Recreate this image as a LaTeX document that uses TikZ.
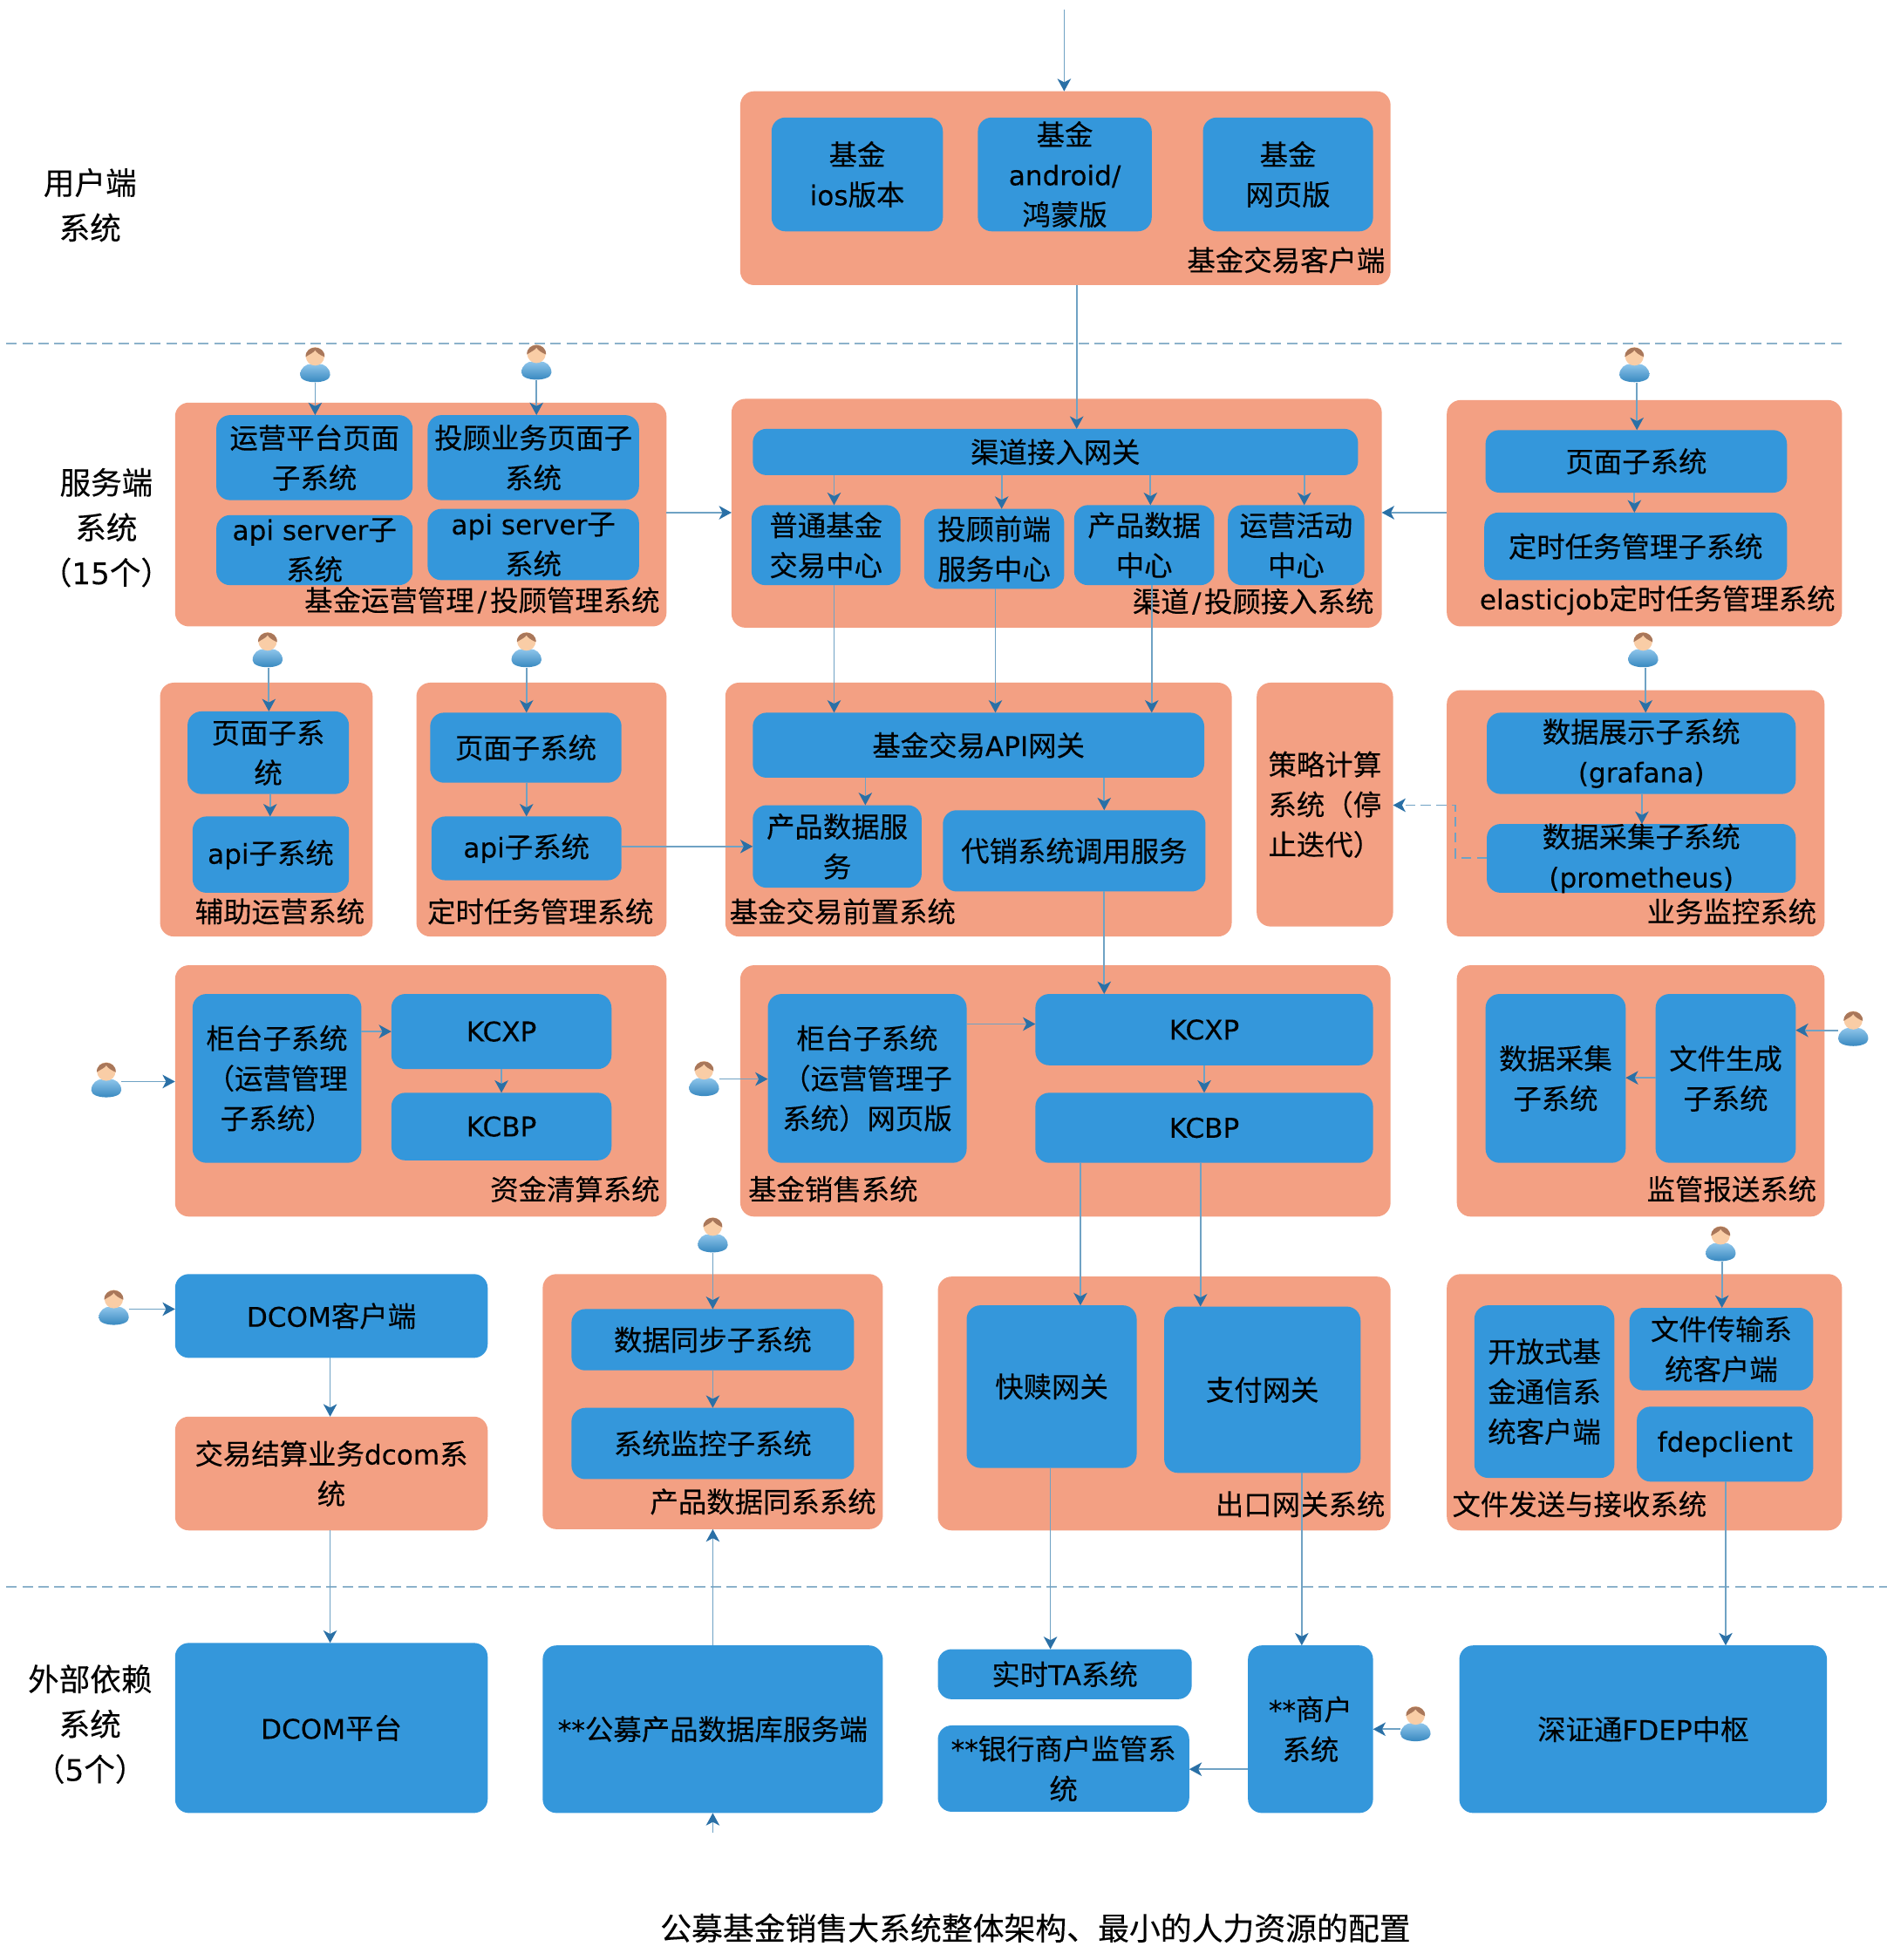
\documentclass[tikz,border=0pt]{standalone}
\usepackage{fontspec}
\setmainfont{Noto Sans CJK SC}[FakeBold=0.18]
\newfontfamily\lat{DejaVu Sans}[Scale=0.96,FakeBold=0.12]
\usetikzlibrary{arrows.meta}
\definecolor{salm}{HTML}{F3A083}
\definecolor{blu}{HTML}{3497DB}
\definecolor{linec}{HTML}{6FA2C4}
\definecolor{tipc}{HTML}{2A70A6}
\definecolor{dashc}{HTML}{8CB2CB}
\definecolor{skin}{HTML}{F9CDA6}
\definecolor{hair}{HTML}{A9775A}
\tikzset{
  outerbox/.style={fill=salm,rounded corners=5.5pt,inner sep=0pt,outer sep=0pt},
  innerbox/.style={fill=blu,rounded corners=5.5pt,inner sep=0pt,outer sep=0pt},
  txt/.style={inner sep=0pt,align=center,text=black,font=\fontsize{11.3pt}{16pt}\selectfont},
  lbl/.style={inner sep=0pt,align=center,text=black,font=\fontsize{11.3pt}{16pt}\selectfont},
  side/.style={inner sep=0pt,align=center,text=black,font=\fontsize{12.4pt}{18pt}\selectfont},
  arr/.style={draw=linec,line width=0.6pt,-{Stealth[length=5pt,width=5.4pt,inset=1.4pt,color=tipc]}},
  dasharr/.style={arr,dash pattern=on 4pt off 2.2pt},
  sep/.style={draw=dashc,line width=0.7pt,dash pattern=on 4.2pt off 2.2pt},
}
% \bx{style}{name}{x1}{y1}{x2}{y2}{text}
\newcommand{\bx}[7]{%
  \pgfmathsetmacro{\bw}{(#5-#3)*0.5}%
  \pgfmathsetmacro{\bh}{(#6-#4)*0.5}%
  \node[#1,minimum width=\bw pt,minimum height=\bh pt] (#2) at ({(#3+#5)/2},{(#4+#6)/2}) {};
  \node[txt] (#2t) at (#2.center) {#7};
}
\newcommand{\person}[3]{%
  \node[inner sep=0pt,outer sep=0pt,minimum width=12pt,minimum height=14pt] (#1) at (#2,#3) {};
  \begin{scope}[shift={(#2,#3)}]
    \shade[top color=blu!55!white,bottom color=blu!85!black]
      (-12,8) .. controls (-12,2) and (-7,-1) .. (-3,-1) -- (3,-1)
      .. controls (7,-1) and (12,2) .. (12,8)
      .. controls (12,15.5) and (-12,15.5) .. (-12,8) -- cycle;
    \fill[skin] (0,-7) circle[radius=7.4];
    \fill[hair] (-7.6,-6.5) .. controls (-8,-16.5) and (8,-16.5) .. (7.6,-6.5)
      .. controls (4,-8) and (1,-10) .. (0,-12) .. controls (-1,-10) and (-4,-9) .. (-7.6,-6.5) -- cycle;
  \end{scope}
}
\begin{document}
\begin{tikzpicture}[x=0.5pt,y=-0.5pt]
\useasboundingbox (0,0) rectangle (1509,1567.6);
% separators
\coordinate (s1a) at (5,275); \coordinate (s1b) at (1474,275);
\coordinate (s2a) at (5,1269); \coordinate (s2b) at (1509,1269);
\draw[sep] (s1a) -- (s1b);
\draw[sep] (s2a) -- (s2b);
% side labels
\node[side] (sideA) at (72,164) {用户端\\系统};
\node[side] (sideB) at (85,422) {服务端\\系统\\（{\lat 15}个）};
\node[side] (sideC) at (72,1379) {外部依赖\\系统\\（{\lat 5}个）};
% client
\bx{outerbox}{client}{592}{73}{1112}{228}{}
\bx{innerbox}{c1}{617}{94}{754}{185}{基金\\{\lat ios}版本}
\bx{innerbox}{c2}{782}{94}{921}{185}{基金\\{\lat android/}\\鸿蒙版}
\bx{innerbox}{c3}{962}{94}{1098}{185}{基金\\网页版}
\node[lbl,anchor=east] (clientl) at (1108,208) {基金交易客户端};
% row 2
\bx{outerbox}{opsys}{140}{322}{533}{501}{}
\bx{innerbox}{op1}{173}{332}{330}{400}{运营平台页面\\子系统}
\bx{innerbox}{op2}{342}{332}{511}{400}{投顾业务页面子\\系统}
\bx{innerbox}{op3}{173}{412}{330}{468}{{\lat api server}子\\系统}
\bx{innerbox}{op4}{342}{407}{511}{464}{{\lat api server}子\\系统}
\node[lbl,anchor=east] (opsysl) at (528,480) {基金运营管理\kern1.4pt{\lat /}\kern1.4pt投顾管理系统};
\bx{outerbox}{chan}{585}{319}{1105}{502}{}
\bx{innerbox}{gw}{602}{343}{1086}{380}{渠道接入网关}
\bx{innerbox}{ch1}{601}{404}{720}{468}{普通基金\\交易中心}
\bx{innerbox}{ch2}{739}{407}{851}{471}{投顾前端\\服务中心}
\bx{innerbox}{ch3}{859}{404}{971}{468}{产品数据\\中心}
\bx{innerbox}{ch4}{982}{404}{1091}{468}{运营活动\\中心}
\node[lbl,anchor=east] (chanl) at (1099,481) {渠道\kern1.2pt{\lat /}\kern1.2pt投顾接入系统};
\bx{outerbox}{ejob}{1157}{320}{1473}{501}{}
\bx{innerbox}{ej1}{1188}{344}{1429}{394}{页面子系统}
\bx{innerbox}{ej2}{1187}{410}{1429}{464}{定时任务管理子系统}
\node[lbl,anchor=east] (ejobl) at (1468,480) {{\lat elasticjob}定时任务管理系统};
% row 3
\bx{outerbox}{aux}{128}{546}{298}{749}{}
\bx{innerbox}{aux1}{150}{569}{279}{635}{页面子系\\统}
\bx{innerbox}{aux2}{154}{653}{279}{714}{{\lat api}子系统}
\node[lbl,anchor=east] (auxl) at (292,729) {辅助运营系统};
\bx{outerbox}{tim}{333}{546}{533}{749}{}
\bx{innerbox}{tim1}{344}{570}{497}{626}{页面子系统}
\bx{innerbox}{tim2}{345}{653}{497}{704}{{\lat api}子系统}
\node[lbl,anchor=east] (timl) at (523,729) {定时任务管理系统};
\bx{outerbox}{pre}{580}{546}{985}{749}{}
\bx{innerbox}{pre1}{602}{570}{963}{622}{基金交易{\lat API}网关}
\bx{innerbox}{pre2}{602}{644}{737}{710}{产品数据服\\务}
\bx{innerbox}{pre3}{754}{648}{964}{713}{代销系统调用服务}
\node[lbl,anchor=west] (prel) at (583,729) {基金交易前置系统};
\bx{outerbox}{strat}{1005}{546}{1114}{741}{策略计算\\系统（停\\止迭代）}
\bx{outerbox}{mon}{1157}{552}{1459}{749}{}
\bx{innerbox}{mon1}{1189}{570}{1436}{635}{数据展示子系统\\{\lat (grafana)}}
\bx{innerbox}{mon2}{1189}{659}{1436}{714}{数据采集子系统\\{\lat (prometheus)}}
\node[lbl,anchor=east] (monl) at (1453,729) {业务监控系统};
% row 4
\bx{outerbox}{clr}{140}{772}{533}{973}{}
\bx{innerbox}{clr1}{154}{795}{289}{930}{柜台子系统\\（运营管理\\子系统）}
\bx{innerbox}{clr2}{313}{795}{489}{855}{{\lat KCXP}}
\bx{innerbox}{clr3}{313}{874}{489}{928}{{\lat KCBP}}
\node[lbl,anchor=east] (clrl) at (528,951) {资金清算系统};
\bx{outerbox}{sal}{592}{772}{1112}{973}{}
\bx{innerbox}{sal1}{614}{795}{773}{930}{柜台子系统\\（运营管理子\\系统）网页版}
\bx{innerbox}{sal2}{828}{795}{1098}{852}{{\lat KCXP}}
\bx{innerbox}{sal3}{828}{874}{1098}{930}{{\lat KCBP}}
\node[lbl,anchor=west] (sall) at (598,951) {基金销售系统};
\bx{outerbox}{reg}{1165}{772}{1459}{973}{}
\bx{innerbox}{reg1}{1188}{795}{1300}{930}{数据采集\\子系统}
\bx{innerbox}{reg2}{1324}{795}{1436}{930}{文件生成\\子系统}
\node[lbl,anchor=east] (regl) at (1453,951) {监管报送系统};
% row 5
\bx{innerbox}{dcli}{140}{1019}{390}{1086}{{\lat DCOM}客户端}
\bx{outerbox}{dsys}{140}{1133}{390}{1224}{交易结算业务{\lat dcom}系\\统}
\bx{outerbox}{prod}{434}{1019}{706}{1223}{}
\bx{innerbox}{prod1}{457}{1047}{683}{1096}{数据同步子系统}
\bx{innerbox}{prod2}{457}{1126}{683}{1183}{系统监控子系统}
\node[lbl,anchor=east] (prodl) at (701,1201) {产品数据同系系统};
\bx{outerbox}{exit}{750}{1021}{1112}{1224}{}
\bx{innerbox}{exit1}{773}{1044}{909}{1174}{快赎网关}
\bx{innerbox}{exit2}{931}{1045}{1088}{1178}{支付网关}
\node[lbl,anchor=east] (exitl) at (1108,1203) {出口网关系统};
\bx{outerbox}{file}{1157}{1019}{1473}{1224}{}
\bx{innerbox}{file1}{1179}{1044}{1291}{1182}{开放式基\\金通信系\\统客户端}
\bx{innerbox}{file2}{1303}{1046}{1450}{1112}{文件传输系\\统客户端}
\bx{innerbox}{file3}{1309}{1125}{1450}{1185}{{\lat fdepclient}}
\node[lbl,anchor=west] (filel) at (1161,1203) {文件发送与接收系统};
% row 6
\bx{innerbox}{dplat}{140}{1314}{390}{1450}{{\lat DCOM}平台}
\bx{innerbox}{db}{434}{1316}{706}{1450}{{\lat **}公募产品数据库服务端}
\bx{innerbox}{ta}{750}{1319}{953}{1359}{实时{\lat TA}系统}
\bx{innerbox}{bank}{750}{1380}{951}{1449}{{\lat **}银行商户监管系\\统}
\bx{innerbox}{merc}{998}{1316}{1098}{1450}{{\lat **}商户\\系统}
\bx{innerbox}{fdep}{1167}{1316}{1461}{1450}{深证通{\lat FDEP}中枢}
% title
\node[inner sep=0pt,font=\fontsize{12.5pt}{16pt}\selectfont] (title) at (828,1542) {公募基金销售大系统整体架构、最小的人力资源的配置};
% people
\person{p1}{252}{292}
\person{p2}{429}{290}
\person{p3}{1307}{292}
\person{p4}{214}{520}
\person{p5}{421}{520}
\person{p6}{1314}{520}
\person{p7}{85}{864}
\person{p8}{563}{863}
\person{p9}{1482}{823}
\person{p10}{91}{1046}
\person{p11}{570}{988}
\person{p12}{1376}{995}
\person{p13}{1132}{1379}
% free ends
\coordinate (topin) at (851,8);
\coordinate (dbin) at (570,1466);
% connectors: vertical
\draw[arr] (topin) -- (topin |- client.north);
\draw[arr] (861,0 |- client.south) -- (861,0 |- gw.north);
\draw[arr] (p1.south) -- (p1.south |- op1.north);
\draw[arr] (p2.south) -- (p2.south |- op2.north);
\draw[arr] (1309,0 |- p3.south) -- (1309,0 |- ej1.north);
\draw[arr] (1307,0 |- ej1.south) -- (1307,0 |- ej2.north);
\draw[arr] (667,0 |- gw.south) -- (667,0 |- ch1.north);
\draw[arr] (801,0 |- gw.south) -- (801,0 |- ch2.north);
\draw[arr] (920,0 |- gw.south) -- (920,0 |- ch3.north);
\draw[arr] (1043,0 |- gw.south) -- (1043,0 |- ch4.north);
\draw[arr] (215,0 |- p4.south) -- (215,0 |- aux1.north);
\draw[arr] (216,0 |- aux1.south) -- (216,0 |- aux2.north);
\draw[arr] (p5.south) -- (p5.south |- tim1.north);
\draw[arr] (421,0 |- tim1.south) -- (421,0 |- tim2.north);
\draw[arr] (667,0 |- ch1.south) -- (667,0 |- pre1.north);
\draw[arr] (796,0 |- ch2.south) -- (796,0 |- pre1.north);
\draw[arr] (921,0 |- ch3.south) -- (921,0 |- pre1.north);
\draw[arr] (692,0 |- pre1.south) -- (692,0 |- pre2.north);
\draw[arr] (883,0 |- pre1.south) -- (883,0 |- pre3.north);
\draw[arr] (1316,0 |- p6.south) -- (1316,0 |- mon1.north);
\draw[arr] (1313,0 |- mon1.south) -- (1313,0 |- mon2.north);
\draw[arr] (883,0 |- pre3.south) -- (883,0 |- sal2.north);
\draw[arr] (401,0 |- clr2.south) -- (401,0 |- clr3.north);
\draw[arr] (963,0 |- sal2.south) -- (963,0 |- sal3.north);
\draw[arr] (864,0 |- sal3.south) -- (864,0 |- exit1.north);
\draw[arr] (960,0 |- sal3.south) -- (960,0 |- exit2.north);
\draw[arr] (264,0 |- dcli.south) -- (264,0 |- dsys.north);
\draw[arr] (264,0 |- dsys.south) -- (264,0 |- dplat.north);
\draw[arr] (p11.south) -- (p11.south |- prod1.north);
\draw[arr] (570,0 |- prod1.south) -- (570,0 |- prod2.north);
\draw[arr] (570,0 |- db.north) -- (570,0 |- prod.south);
\draw[arr] (dbin) -- (dbin |- db.south);
\draw[arr] (1377,0 |- p12.south) -- (1377,0 |- file2.north);
\draw[arr] (840,0 |- exit1.south) -- (840,0 |- ta.north);
\draw[arr] (1041,0 |- exit2.south) -- (1041,0 |- merc.north);
\draw[arr] (1380,0 |- file3.south) -- (1380,0 |- fdep.north);
% connectors: horizontal
\draw[arr] (opsys.east |- 0,410) -- (chan.west |- 0,410);
\draw[arr] (ejob.west |- 0,410) -- (chan.east |- 0,410);
\draw[arr] (tim2.east |- 0,677) -- (pre2.west |- 0,677);
\draw[arr] (p7.east |- 0,865) -- (clr.west |- 0,865);
\draw[arr] (clr1.east |- 0,825) -- (clr2.west |- 0,825);
\draw[arr] (p8.east |- 0,863) -- (sal1.west |- 0,863);
\draw[arr] (sal1.east |- 0,819) -- (sal2.west |- 0,819);
\draw[arr] (p9.west |- 0,824) -- (reg2.east |- 0,824);
\draw[arr] (reg2.west |- 0,862) -- (reg1.east |- 0,862);
\draw[arr] (p10.east |- 0,1047) -- (dcli.west |- 0,1047);
\draw[arr] (merc.west |- 0,1415) -- (bank.east |- 0,1415);
\draw[arr] (p13.west |- 0,1383) -- (merc.east |- 0,1383);
% dashed
\draw[dasharr] (mon2.west |- 0,686) -| (1164,644) -- (strat.east |- 0,644);
\end{tikzpicture}
\end{document}
